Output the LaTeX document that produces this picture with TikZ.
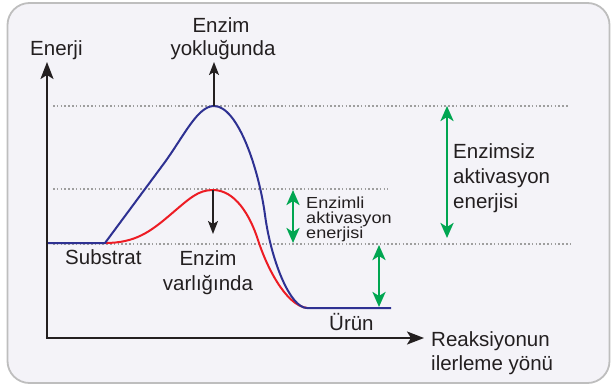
\documentclass[tikz,border=0pt]{standalone}
\usepackage{fontspec}
\setmainfont{Liberation Sans}
\usetikzlibrary{arrows.meta}
\definecolor{bgc}{HTML}{F4F3F8}
\definecolor{framec}{HTML}{BEBEBE}
\definecolor{navy}{HTML}{2E3192}
\definecolor{redc}{HTML}{ED1C24}
\definecolor{greenc}{HTML}{00A651}
\definecolor{dotc}{HTML}{9E9E9E}
\definecolor{txt}{HTML}{231F20}
\begin{document}
\begin{tikzpicture}[x=1pt,y=-1pt,
  framebox/.style={draw=framec,line width=1.8pt,fill=bgc,rounded corners=22pt},
  lbl/.style={font=\fontsize{20.5}{24}\selectfont,text=txt,inner sep=0pt},
  biglbl/.style={font=\fontsize{20.5}{24}\selectfont,text=txt,inner sep=0pt},
  smalllbl/.style={font=\fontsize{16}{15}\selectfont,text=txt,inner sep=0pt,xscale=1.13},
  guide/.style={draw=dotc,line width=1.1pt,dash pattern=on 1.6pt off 2.2pt},
  axis/.style={draw=txt,line width=2.2pt,-{Stealth[length=17pt,width=13pt,inset=4pt]}},
  pointer/.style={draw=txt,line width=1.5pt,-{Stealth[length=13pt,width=10pt,inset=3pt]}},
  energy/.style={draw=greenc,line width=2.8pt,{Stealth[length=15pt,width=13pt,inset=4pt]}-{Stealth[length=15pt,width=13pt,inset=4pt]}},
  curveblue/.style={draw=navy,line width=2pt,line join=round},
  curvered/.style={draw=redc,line width=2pt}]
\useasboundingbox (0,0) rectangle (612,386);
\draw[framebox] (7.5,3) rectangle (609.5,383);

% guide lines
\coordinate (gt1) at (53,106);  \coordinate (gt2) at (569,106);
\coordinate (gm1) at (53,189);  \coordinate (gm2) at (388,189);
\coordinate (gl1) at (53,244);  \coordinate (gl2) at (573,244);
\draw[guide] (gt1) -- (gt2);
\draw[guide] (gm1) -- (gm2);
\draw[guide] (gl1) -- (gl2);

% key points
\coordinate (s0) at (47,243);
\coordinate (s1) at (105,243);
\coordinate (pb) at (214,106);
\coordinate (pr) at (213,190);
\coordinate (p0) at (307,308);
\coordinate (p1) at (391,308);

% curves
\draw[curvered] (s1) .. controls (135,243) and (150,232) .. (170,215)
   .. controls (190,198) and (198,190) .. (pr)
   .. controls (235,190) and (250,215) .. (258,240)
   .. controls (266,265) and (285,305) .. (p0);
\draw[curveblue] (s0) -- (s1) -- (165,162) .. controls (185,134) and (198,106) .. (pb)
   .. controls (238,106) and (259,170) .. (265,215)
   .. controls (271,260) and (290,308) .. (p0) -- (p1);

% axes
\coordinate (o) at (47,338);
\coordinate (ytop) at (47,62);
\coordinate (xend) at (424,338);
\draw[axis] (o) -- (ytop);
\draw[axis] ([xshift=-1.1pt]o) -- (xend);

% black pointers
\coordinate (upend) at (214,62);
\coordinate (dnend) at (213,234);
\draw[pointer] (pb) -- (upend);
\draw[pointer] (pr) -- (dnend);

% green energy arrows
\coordinate (ga1) at (447,106);  \coordinate (ga2) at (447,238);
\coordinate (gb1) at (293,190);  \coordinate (gb2) at (293,243);
\coordinate (gc1) at (379,245);  \coordinate (gc2) at (379,307);
\draw[energy] (ga1) -- (ga2);
\draw[energy] (gb1) -- (gb2);
\draw[energy] (gc1) -- (gc2);

% labels
\node[lbl,anchor=base west] (enerji) at (30,55) {Enerji};
\node[lbl,anchor=base] (yok1) at (221,32) {Enzim};
\node[lbl,anchor=base] (yok2) at (223,55) {yokluğunda};
\node[lbl,anchor=base west] (substrat) at (65,264) {Substrat};
\node[lbl,anchor=base] (var1) at (208,265) {Enzim};
\node[lbl,anchor=base] (var2) at (208,290) {varlığında};
\node[lbl,anchor=base west] (urun) at (329,330) {Ürün};
\node[lbl,anchor=base west] (reak1) at (431,346) {Reaksiyonun};
\node[lbl,anchor=base west] (reak2) at (431,370) {ilerleme yönü};
\node[biglbl,anchor=base west] (ez1) at (453,158) {Enzimsiz};
\node[biglbl,anchor=base west] (ez2) at (453,183) {aktivasyon};
\node[biglbl,anchor=base west] (ez3) at (453,208) {enerjisi};
\node[smalllbl,anchor=base west] (el1) at (306,208) {Enzimli};
\node[smalllbl,anchor=base west] (el2) at (306,223) {aktivasyon};
\node[smalllbl,anchor=base west] (el3) at (306,238) {enerjisi};
\end{tikzpicture}
\end{document}
